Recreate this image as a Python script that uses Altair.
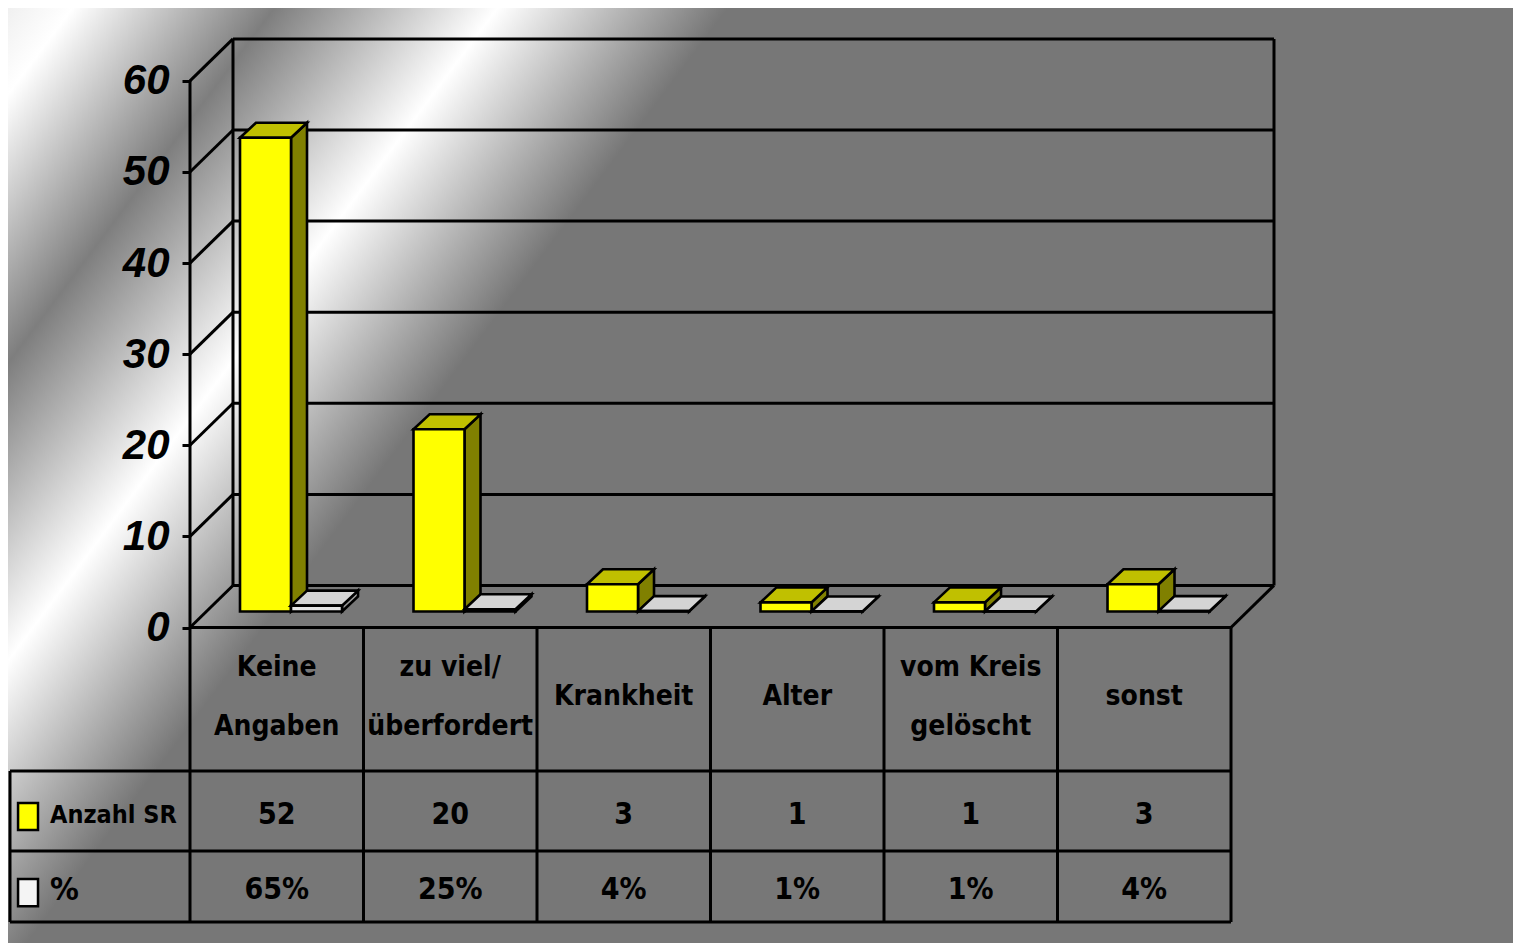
import altair as alt
import pandas as pd

# ---------------- data ----------------
categories = ["Keine\nAngaben", "zu viel/\nüberfordert", "Krankheit", "Alter", "vom Kreis\ngelöscht", "sonst"]
anzahl_sr = [52, 20, 3, 1, 1, 3]
prozent = [0.65, 0.25, 0.04, 0.01, 0.01, 0.04]
series_names = ["Anzahl SR", "%"]
y_ticks = [0, 10, 20, 30, 40, 50, 60]

# ---------------- layout / style ----------------
W, H = 1505, 935
X_DOMAIN = [-1.04899, 7.62536]
Y_DOMAIN = [-34.63, 68.0]
DX, DY = 0.2478, 4.61            # 3-D depth of the walls
AX1, AY1, AX2, AY2 = 0.0922, 1.756, 0.1844, 3.40   # depth of the columns
SLOT0, SLOT_W = 0.196, 0.294
ROW1, ROW2, ROW3 = -15.75, -24.53, -32.33
LEFT = -1.0375
LINE_H = 59
HALF_LINE_UNITS = (LINE_H / 2) / 9.11
FONT_T = "'DejaVu Sans Condensed', 'DejaVu Sans', sans-serif"
FS_T = 28
HDR_SIZES = [25, 32]

xs = alt.Scale(domain=X_DOMAIN, nice=False, zero=False)
ys = alt.Scale(domain=Y_DOMAIN, nice=False, zero=False)
yaxis = alt.Axis(values=y_ticks, title=None, grid=False, domain=False, ticks=True,
                 tickSize=8, tickWidth=3, tickColor="black", zindex=2,
                 labelFont="Liberation Sans", labelFontSize=42, labelFontWeight="bold",
                 labelFontStyle="italic", labelColor="black", labelPadding=13, offset=-182)


def X(f):
    return alt.X(f"{f}:Q", scale=xs, axis=None, stack=None)


def Y(f):
    return alt.Y(f"{f}:Q", scale=ys, axis=yaxis, stack=None)


n = len(categories)
styles = [
    dict(front="#ffff00", top="#c0c000", side="#808000"),
    dict(front="#e4e4e4", top="#d4d4d4", side="#9a9a9a"),
]
series_values = [anzahl_sr, prozent]

front_rows, top_rows, side_rows = [], [], []
for s, vals in enumerate(series_values):
    for i, v in enumerate(vals):
        L = i + SLOT0 + s * SLOT_W
        R = L + SLOT_W
        key = f"{s}-{i}"
        front_rows.append(dict(series=s, x=L + AX1, x2=R + AX1, y=AY1, y2=v + AY1, fill=styles[s]["front"]))
        top_rows.append(dict(series=s, key=key, y=v + AY1, xl=L + AX1, xr=R + AX1, fill=styles[s]["top"]))
        top_rows.append(dict(series=s, key=key, y=v + AY2, xl=L + AX2, xr=R + AX2, fill=styles[s]["top"]))
        side_rows.append(dict(series=s, key=key, x=R + AX1, yb=AY1, yt=v + AY1, fill=styles[s]["side"]))
        side_rows.append(dict(series=s, key=key, x=R + AX2, yb=AY2, yt=v + AY2, fill=styles[s]["side"]))
front_df = pd.DataFrame(front_rows)
top_df = pd.DataFrame(top_rows)
side_df = pd.DataFrame(side_rows)

# frame lines (walls, floor, gridlines) and table lines
ymax = max(y_ticks)
lines = []
for v in y_ticks:
    lines.append(dict(x=DX, y=v + DY, x2=n + DX, y2=v + DY))
    lines.append(dict(x=0, y=v, x2=DX, y2=v + DY))
lines.append(dict(x=DX, y=DY, x2=DX, y2=ymax + DY))
lines.append(dict(x=n + DX, y=DY, x2=n + DX, y2=ymax + DY))
lines.append(dict(x=0, y=ROW3, x2=0, y2=ymax))
lines.append(dict(x=0, y=0, x2=n, y2=0))
lines.append(dict(x=n, y=0, x2=n + DX, y2=DY))
for r in (ROW1, ROW2, ROW3):
    lines.append(dict(x=LEFT, y=r, x2=n, y2=r))
lines.append(dict(x=LEFT, y=ROW1, x2=LEFT, y2=ROW3))
for i in range(1, n + 1):
    lines.append(dict(x=i, y=0, x2=i, y2=ROW3))
lines_df = pd.DataFrame(lines)

# table texts
cat_y = [-7.63 + (c.count("\n")) * HALF_LINE_UNITS for c in categories]
cat_df = pd.DataFrame(dict(x=[i + 0.5 for i in range(n)], y=cat_y, t=categories))
val_df = pd.DataFrame(dict(x=[i + 0.5 for i in range(n)], y=[-20.58] * n, t=[str(v) for v in anzahl_sr]))
pct_df = pd.DataFrame(dict(x=[i + 0.5 for i in range(n)], y=[-28.81] * n,
                           t=[f"{round(p * 100)}%" for p in prozent]))
hdr_df = pd.DataFrame(dict(x=[-0.807, -0.807], y=[-20.58, -28.81], t=series_names, fs=HDR_SIZES))
key_df = pd.DataFrame(dict(x=[-0.991, -0.991], x2=[-0.876, -0.876], y=[-19.26, -27.6], y2=[-22.23, -30.6],
                           fill=[styles[0]["front"], "#f4f4f4"]))

# ---------------- layers ----------------
bg = alt.Chart(pd.DataFrame({"a": [0]})).mark_rect(
    fill=alt.LinearGradient(
        gradient="linear", x1=0, y1=0, x2=0.39306, y2=0.18314,
        stops=[alt.GradientStop(color="#f0f0f0", offset=0),
               alt.GradientStop(color="#ffffff", offset=0.09),
               alt.GradientStop(color="#7e7e7e", offset=0.37),
               alt.GradientStop(color="#ffffff", offset=0.68),
               alt.GradientStop(color="#777777", offset=1.0)])
).encode(x=alt.value(0), x2=alt.value(W), y=alt.value(0), y2=alt.value(H))

rules = alt.Chart(lines_df).mark_rule(color="black", strokeWidth=3).encode(
    x=X("x"), x2="x2:Q", y=Y("y"), y2="y2:Q")

stroke = dict(stroke="black", strokeWidth=2.6, strokeJoin="miter")


def faces(s):
    side = alt.Chart(side_df[side_df.series == s]).mark_area(orient="vertical", **stroke).encode(
        x=X("x"), y=Y("yb"), y2="yt:Q", detail="key:N", color=alt.Color("fill:N", scale=None))
    top = alt.Chart(top_df[top_df.series == s]).mark_area(orient="horizontal", **stroke).encode(
        y=Y("y"), x=X("xl"), x2="xr:Q", detail="key:N", color=alt.Color("fill:N", scale=None))
    front = alt.Chart(front_df[front_df.series == s]).mark_rect(**stroke).encode(
        x=X("x"), x2="x2:Q", y=Y("y"), y2="y2:Q", color=alt.Color("fill:N", scale=None))
    return [side, top, front]


txt = dict(font=FONT_T, fontWeight="bold", color="black", baseline="middle")
cat_text = alt.Chart(cat_df).mark_text(lineBreak="\n", lineHeight=LINE_H, align="center", fontSize=FS_T,
                                       **txt).encode(x=X("x"), y=Y("y"), text="t:N")
val_text = alt.Chart(val_df).mark_text(align="center", fontSize=30, **txt).encode(
    x=X("x"), y=Y("y"), text="t:N")
pct_text = alt.Chart(pct_df).mark_text(align="center", fontSize=30, **txt).encode(
    x=X("x"), y=Y("y"), text="t:N")
hdr_text = alt.Chart(hdr_df).mark_text(align="left", **txt).encode(
    x=X("x"), y=Y("y"), text="t:N", size=alt.Size("fs:Q", scale=None, legend=None))
keys = alt.Chart(key_df).mark_rect(stroke="black", strokeWidth=2.5).encode(
    x=X("x"), x2="x2:Q", y=Y("y"), y2="y2:Q", color=alt.Color("fill:N", scale=None))

chart = alt.layer(
    bg, rules, *faces(0), *faces(1), cat_text, val_text, pct_text, hdr_text, keys
).properties(
    width=W, height=H, autosize=alt.AutoSizeParams(type="none"), padding=0, background="#777777"
).configure_view(stroke=None)

chart.save("out.html", embed_options={"renderer": "svg", "actions": False})
